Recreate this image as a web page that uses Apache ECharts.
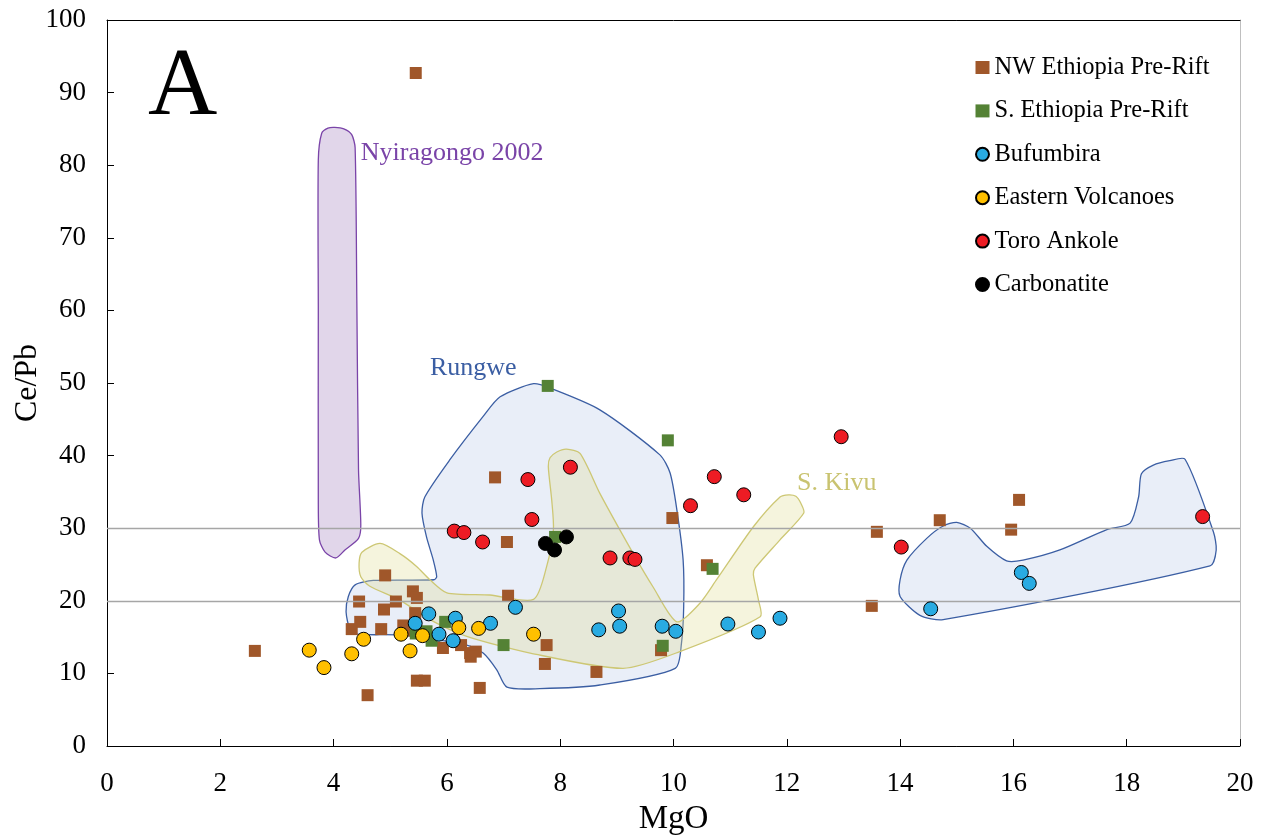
<!DOCTYPE html>
<html>
<head>
<meta charset="utf-8">
<script src="https://cdn.jsdelivr.net/npm/echarts@6/dist/echarts.min.js"></script>
<style>
  html, body { margin: 0; padding: 0; background: #fff; }
  #chart { width: 1268px; height: 839px; }
</style>
</head>
<body>
<div id="chart"></div>
<script>
// MgO (wt%) vs Ce/Pb for East African Rift volcanics
const xTicks = [0, 2, 4, 6, 8, 10, 12, 14, 16, 18, 20];
const yTicks = [0, 10, 20, 30, 40, 50, 60, 70, 80, 90, 100];

const nwEthiopia = [
  [2.61, 13.1], [5.45, 92.7], [6.85, 37.0], [7.06, 28.1], [7.08, 20.7],
  [7.76, 13.9], [7.73, 11.3], [8.64, 10.2], [9.98, 31.4], [10.59, 24.9],
  [9.78, 13.2], [13.50, 19.3], [13.59, 29.5], [14.70, 31.1], [15.96, 29.8],
  [16.10, 33.9], [4.91, 23.5], [5.40, 21.3], [5.47, 20.4], [4.45, 19.9],
  [5.10, 19.9], [4.89, 18.8], [5.44, 18.3], [4.47, 17.1], [4.32, 16.1],
  [4.84, 16.1], [5.23, 16.6], [5.36, 15.9], [5.93, 13.5], [6.25, 13.9],
  [6.41, 12.8], [6.51, 13.0], [6.42, 12.3], [5.47, 9.0], [5.61, 9.0],
  [4.60, 7.0], [6.58, 8.0]
];
const sEthiopia = [
  [5.45, 15.5], [5.64, 15.8], [5.73, 14.5], [5.97, 17.1], [7.00, 13.9],
  [7.78, 49.6], [7.91, 28.8], [9.90, 42.1], [9.81, 13.8], [10.69, 24.4]
];
const bufumbira = [
  [5.68, 18.2], [5.44, 16.9], [5.86, 15.4], [6.15, 17.6], [6.11, 14.5],
  [6.77, 16.9], [7.21, 19.1], [8.68, 16.0], [9.03, 18.6], [9.05, 16.5],
  [9.80, 16.5], [10.04, 15.8], [10.96, 16.8], [11.50, 15.7], [11.88, 17.6],
  [14.54, 18.9], [16.14, 23.9], [16.28, 22.4]
];
const easternVolcanoes = [
  [3.57, 13.2], [3.83, 10.8], [4.32, 12.7], [4.53, 14.7], [5.19, 15.4],
  [5.35, 13.1], [5.57, 15.2], [6.21, 16.3], [6.56, 16.2], [7.53, 15.4]
];
const toroAnkole = [
  [6.13, 29.6], [6.30, 29.4], [6.63, 28.1], [7.43, 36.7], [7.50, 31.2],
  [8.18, 38.4], [8.88, 25.9], [9.23, 25.9], [9.32, 25.7], [10.30, 33.1],
  [10.72, 37.1], [11.24, 34.6], [12.96, 42.6], [14.02, 27.4], [19.34, 31.6]
];
const carbonatite = [[7.74, 27.9], [7.90, 27.0], [8.11, 28.8]];

// Field outlines (MgO, Ce/Pb)
const nyiragongoField = [
  [3.75, 28.4], [3.73, 33.9], [3.73, 60.0], [3.73, 80.7], [3.79, 84.4],
  [3.90, 85.1], [4.02, 85.2], [4.18, 85.0], [4.32, 84.2], [4.38, 82.4],
  [4.41, 61.4], [4.44, 38.0], [4.48, 30.4], [4.44, 28.6], [4.20, 27.0],
  [4.04, 25.9], [3.85, 26.7]
];
const rungweField = [
  [7.53, 49.9], [6.94, 48.1], [6.64, 45.4], [6.05, 39.4], [5.61, 34.3],
  [5.56, 32.1], [5.64, 28.8], [5.76, 25.6], [5.82, 23.3], [5.77, 22.9],
  [4.70, 22.8], [4.38, 22.2], [4.26, 20.6], [4.22, 18.5], [4.29, 16.0],
  [4.41, 15.4], [5.11, 15.3], [5.70, 14.8], [6.35, 13.9], [6.64, 12.8],
  [6.88, 10.5], [7.06, 8.1], [7.64, 7.9], [8.70, 8.4], [10.03, 10.7],
  [10.14, 14.1], [10.18, 19.2], [10.17, 25.6], [10.06, 32.5], [9.94, 37.6],
  [9.76, 40.1], [8.70, 46.3], [7.82, 49.3]
];
const rungweHighMgField = [
  [14.00, 20.6], [14.00, 22.9], [14.12, 25.6], [14.47, 28.6], [14.76, 30.3],
  [15.00, 30.8], [15.24, 30.0], [15.53, 27.5], [15.88, 25.5], [16.17, 25.6],
  [16.82, 27.0], [17.65, 29.8], [18.06, 30.7], [18.21, 34.3], [18.26, 37.5],
  [18.47, 38.7], [18.76, 39.3], [19.03, 39.5], [19.53, 29.5], [19.58, 27.0],
  [19.47, 24.8], [14.76, 17.4], [14.35, 18.0]
];
const sKivuField = [
  [4.82, 27.9], [5.17, 26.5], [5.47, 24.7], [5.70, 22.9], [6.00, 21.1],
  [6.76, 20.8], [7.53, 20.2], [7.76, 24.7], [7.88, 29.8], [7.85, 33.9],
  [7.79, 38.5], [7.82, 39.7], [7.94, 40.5], [8.11, 40.9], [8.35, 40.3],
  [8.70, 34.8], [9.29, 26.5], [9.64, 21.9], [10.06, 17.1], [10.47, 19.7],
  [10.76, 22.9], [11.41, 30.2], [11.88, 34.3], [12.03, 34.6], [12.16, 34.4],
  [12.25, 33.4], [12.30, 32.1], [11.88, 28.4], [11.44, 24.5], [11.41, 23.6],
  [11.50, 20.1], [11.53, 17.8], [10.11, 13.0], [9.11, 10.7], [7.47, 12.8],
  [6.35, 15.1], [5.70, 17.4], [5.17, 20.1], [4.64, 22.0], [4.48, 23.3],
  [4.45, 25.2], [4.50, 26.7]
];

const SERIF = '"Liberation Serif", "Times New Roman", serif';

function fieldSeries(name, points, fill, stroke, label, labelAt, labelColor, z) {
  return {
    type: 'custom',
    name: name,
    z: z,
    silent: true,
    data: [[0, 0]],
    renderItem: function (params, api) {
      const pts = points.map(function (p) { return api.coord(p); });
      const children = [{
        type: 'polygon',
        shape: { points: pts, smooth: 0.25 },
        style: { fill: fill, stroke: stroke, lineWidth: 1.3 }
      }];
      if (label) {
        const at = api.coord(labelAt);
        children.push({
          type: 'text',
          x: at[0], y: at[1],
          style: {
            text: label, fill: labelColor, font: '26px ' + SERIF,
            align: 'left', verticalAlign: 'middle'
          }
        });
      }
      return { type: 'group', children: children };
    }
  };
}

function scatter(name, data, symbol, size, color, bordered, z) {
  return {
    type: 'scatter',
    name: name,
    data: data,
    symbol: symbol,
    symbolSize: size,
    z: z,
    itemStyle: bordered
      ? { color: color, borderColor: '#000', borderWidth: 1, opacity: 1 }
      : { color: color, opacity: 1 }
  };
}

const chart = echarts.init(document.getElementById('chart'), null, { renderer: 'canvas' });

chart.setOption({
  animation: false,
  backgroundColor: '#fff',
  grid: {
    left: 107, right: 28, top: 20, bottom: 93,
    containLabel: false, outerBoundsMode: 'none'
  },
  xAxis: [{
    type: 'value', min: xTicks[0], max: xTicks[xTicks.length - 1], interval: 2,
    name: 'MgO', nameLocation: 'middle', nameGap: 57, nameMoveOverlap: false,
    nameTextStyle: { fontFamily: SERIF, fontSize: 33, color: '#000' },
    axisLine: { show: true, onZero: false, lineStyle: { color: '#000', width: 1 } },
    axisTick: { show: true, inside: true, length: 7, lineStyle: { color: '#000' } },
    axisLabel: { fontFamily: SERIF, fontSize: 27, color: '#000', margin: 24 },
    splitLine: { show: false }
  }, {
    type: 'value', position: 'top', min: 0, max: 20,
    axisLine: { show: true, onZero: false, lineStyle: { color: '#000', width: 1 } },
    axisTick: { show: false }, axisLabel: { show: false }, splitLine: { show: false }
  }],
  yAxis: [{
    type: 'value', min: yTicks[0], max: yTicks[yTicks.length - 1], interval: 10,
    name: 'Ce/Pb', nameLocation: 'middle', nameGap: 63, nameMoveOverlap: false,
    nameTextStyle: { fontFamily: SERIF, fontSize: 32, color: '#000' },
    axisLine: { show: true, onZero: false, lineStyle: { color: '#000', width: 1 } },
    axisTick: { show: true, inside: true, length: 7, lineStyle: { color: '#000' } },
    axisLabel: { fontFamily: SERIF, fontSize: 27, color: '#000', margin: 21 },
    splitLine: { show: false }
  }, {
    type: 'value', position: 'right', min: 0, max: 100,
    axisLine: { show: true, onZero: false, lineStyle: { color: '#bfbfbf', width: 1 } },
    axisTick: { show: false }, axisLabel: { show: false }, splitLine: { show: false }
  }],
  legend: {
    orient: 'vertical',
    left: 970, top: 50,
    itemWidth: 14, itemHeight: 13, itemGap: 18.4,
    textStyle: { fontFamily: SERIF, fontSize: 24.5, color: '#000', lineHeight: 25 },
    data: [
      { name: 'NW Ethiopia Pre-Rift', icon: 'rect' },
      { name: 'S. Ethiopia Pre-Rift', icon: 'rect' },
      { name: 'Bufumbira', icon: 'circle' },
      { name: 'Eastern Volcanoes', icon: 'circle' },
      { name: 'Toro Ankole', icon: 'circle' },
      { name: 'Carbonatite', icon: 'circle' }
    ]
  },
  graphic: [{
    type: 'text', left: 148, top: 41,
    style: { text: 'A', font: '96px ' + SERIF, fill: '#000' }
  }],
  series: [
    fieldSeries('Nyiragongo field', nyiragongoField, '#e1d6ea', '#7a44a8',
      'Nyiragongo 2002', [4.48, 81.7], '#7a44a8', 1),
    fieldSeries('Rungwe field', rungweField, '#e9eef8', '#3b5ea3',
      'Rungwe', [5.70, 52.0], '#3b5ea3', 1),
    fieldSeries('Rungwe high-MgO field', rungweHighMgField, '#e9eef8', '#3b5ea3',
      null, null, null, 1),
    fieldSeries('S. Kivu field', sKivuField, 'rgba(225,222,150,0.32)', '#cdc774',
      'S. Kivu', [12.18, 36.2], '#c9c370', 2),
    {
      type: 'line', name: 'reference lines', data: [], z: 3, silent: true,
      markLine: {
        silent: true, symbol: 'none', label: { show: false },
        lineStyle: { color: '#a6a6a6', width: 1.3, type: 'solid' },
        data: [{ yAxis: 20 }, { yAxis: 30 }]
      }
    },
    scatter('NW Ethiopia Pre-Rift', nwEthiopia, 'rect', 12, '#a0572a', false, 4),
    scatter('S. Ethiopia Pre-Rift', sEthiopia, 'rect', 12, '#548235', false, 5),
    scatter('Bufumbira', bufumbira, 'circle', 14, '#29abe2', true, 6),
    scatter('Eastern Volcanoes', easternVolcanoes, 'circle', 14, '#ffc000', true, 7),
    scatter('Toro Ankole', toroAnkole, 'circle', 14, '#ed1c24', true, 8),
    scatter('Carbonatite', carbonatite, 'circle', 14, '#000000', true, 9)
  ]
});
</script>
</body>
</html>
